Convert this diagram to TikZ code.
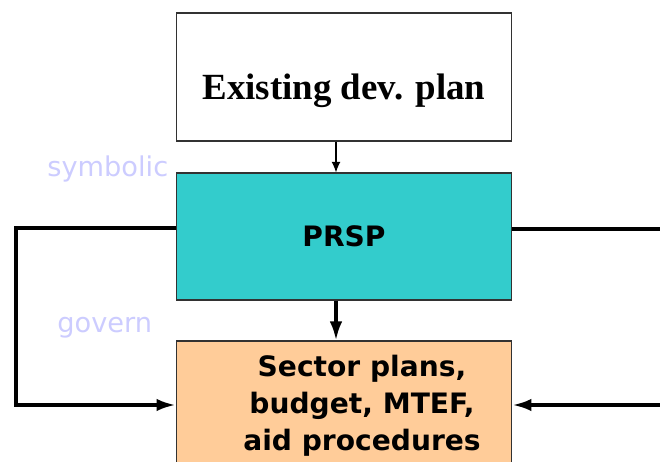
\documentclass[tikz,border=0pt]{standalone}
\usepackage{fontspec}
\setmainfont{Liberation Serif}
\setsansfont{DejaVu Sans}
\usepackage{xcolor}
\usepackage{tikz}
\usetikzlibrary{positioning, calc, arrows.meta}
\definecolor{prspteal}{RGB}{51, 204, 204}
\definecolor{sectorpeach}{RGB}{255, 204, 153}
\definecolor{notelilac}{RGB}{204, 204, 255}
\definecolor{boxborder}{RGB}{50, 50, 50}

\begin{document}
\begin{tikzpicture}[
                x=0.02cm, y=-0.02cm,
                % Style cho các hộp
                planbox/.style={
                    rectangle, draw=boxborder, line width=0.6pt,
                    minimum width=6.72cm, inner sep=0pt
                },
                % Style cho chữ trong hộp
                boxtext/.style={
                    font=\sffamily\bfseries\fontsize{16}{21}\selectfont,
                    align=center, inner sep=0pt
                },
                % Style cho chữ ghi chú (mờ)
                notetext/.style={
                    text=notelilac, font=\sffamily\fontsize{15.5}{18}\selectfont,
                    inner sep=0pt, anchor=base west
                },
                % Style cho mũi tên mảnh
                thinarrow/.style={
                    -{Latex[length=6pt, width=5pt]}, line width=0.6pt
                },
                % Style cho mũi tên dày
                thickarrow/.style={
                    -{Latex[length=0.38cm, width=0.25cm]}, line width=1.9pt
                }
            ]
                \clip (0,0) rectangle (660,462);
                \useasboundingbox (0,0) rectangle (660,462);

                % 1. Các hộp
                \node[planbox, fill=white, minimum height=2.56cm] (plan) at (344,77) {};
                \node[font=\rmfamily\bfseries\fontsize{21}{24}\selectfont,
                      inner sep=0pt, anchor=base] (plantext) at (344,100) {Existing dev. plan};

                \node[planbox, fill=prspteal, minimum height=2.54cm,
                      boxtext] (prsp) at (344,236.5) {PRSP};

                \node[planbox, fill=sectorpeach, minimum height=2.8cm] (sector) at (344,411) {};
                \node[boxtext] (sectortext) at (362,406)
                    {Sector plans,\\budget, MTEF,\\aid procedures};

                % 2. Ghi chú
                \node[notetext] (symbolic) at (47,177) {symbolic};
                \node[notetext] (govern) at (57,333) {govern};

                % 3. Mũi tên giữa các hộp
                \coordinate (mid) at (336,0);
                \draw[thinarrow] (plan.south -| mid) -- (prsp.north -| mid);
                \draw[thickarrow] (prsp.south -| mid) -- (sector.north -| mid);

                % 4. Vòng bên trái
                \coordinate (lup) at (16,228);
                \coordinate (ldown) at (16,405);
                \draw[thickarrow] (prsp.west |- lup) -- (lup) -- (ldown) -- (sector.west |- ldown);

                % 5. Đường bên phải
                \coordinate (rup) at (660,229);
                \coordinate (rdown) at (660,405);
                \draw[line width=1.9pt] (prsp.east |- rup) -- (rup);
                \draw[thickarrow] (rdown) -- (sector.east |- rdown);

            \end{tikzpicture}
\end{document}
